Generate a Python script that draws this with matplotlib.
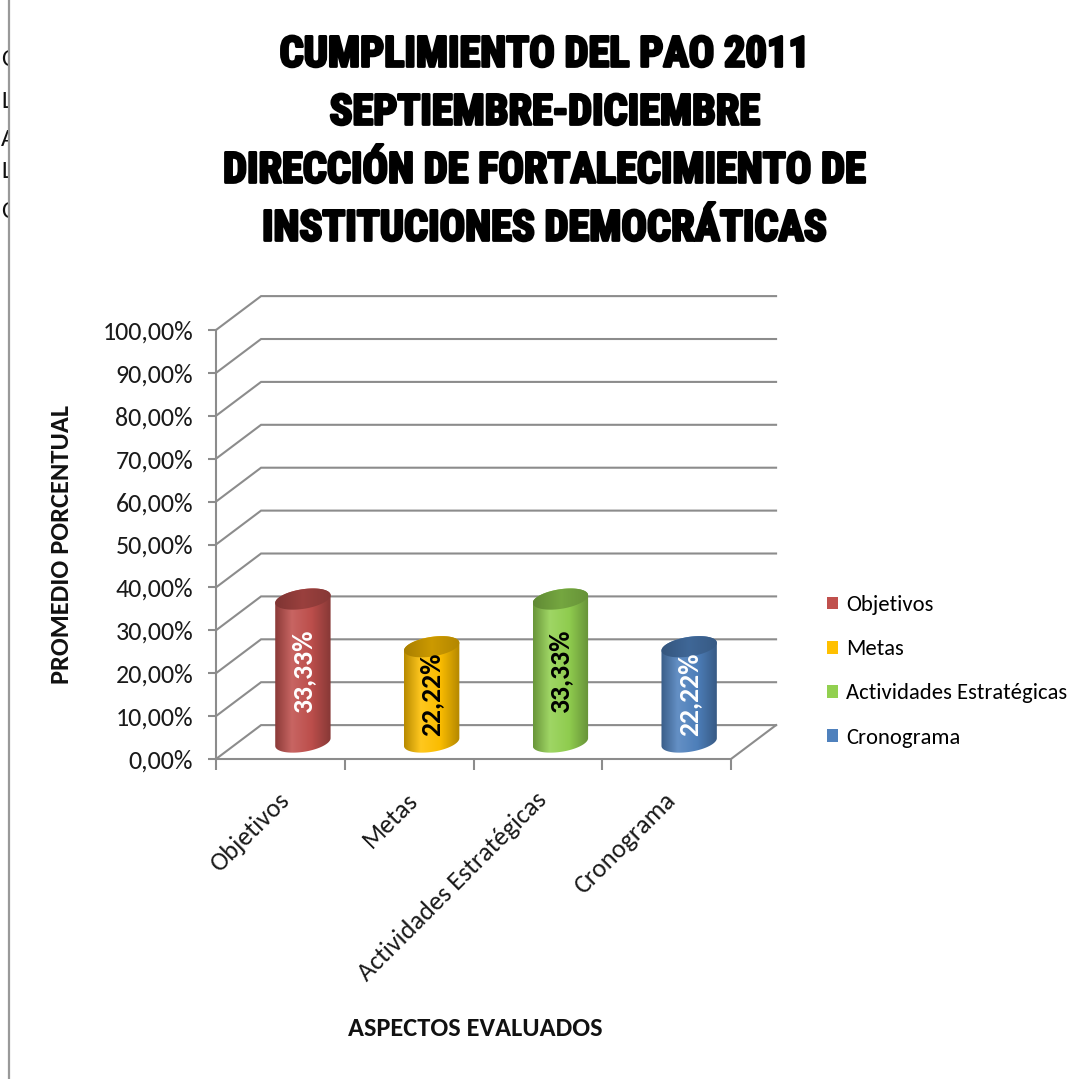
import numpy as np
import matplotlib
matplotlib.use("Agg")
import matplotlib.pyplot as plt
from matplotlib import font_manager
from matplotlib.patches import PathPatch, Rectangle, Patch
from matplotlib.path import Path
from matplotlib.lines import Line2D
from matplotlib.colors import LinearSegmentedColormap, to_rgb
from matplotlib.transforms import ScaledTranslation
import matplotlib.patheffects as pe

# ---------------- data ----------------
categories = ["Objetivos", "Metas", "Actividades Estratégicas", "Cronograma"]
values = [33.33, 22.22, 33.33, 22.22]
value_labels = ["33,33%", "22,22%", "33,33%", "22,22%"]
bar_colors = ["#C0504D", "#FFC000", "#92D050", "#4F81BD"]
label_colors = ["white", "black", "black", "white"]
y_ticks = [0, 10, 20, 30, 40, 50, 60, 70, 80, 90, 100]
y_tick_labels = ["0,00%", "10,00%", "20,00%", "30,00%", "40,00%", "50,00%",
                 "60,00%", "70,00%", "80,00%", "90,00%", "100,00%"]
title_lines = ["CUMPLIMIENTO DEL PAO 2011",
               "SEPTIEMBRE-DICIEMBRE",
               "DIRECCIÓN DE FORTALECIMIENTO DE",
               "INSTITUCIONES DEMOCRÁTICAS"]
y_title = "PROMEDIO PORCENTUAL"
x_title = "ASPECTOS EVALUADOS"

# ---------------- fonts ----------------
installed = {f.name for f in font_manager.fontManager.ttflist}


def pick(*names):
    for n in names:
        if n in installed:
            return n
    return "DejaVu Sans"


BODY = pick("Carlito", "Lato", "Open Sans", "DejaVu Sans")
TITLE = pick("Liberation Sans Narrow", "Roboto Condensed", "Arial Narrow", "DejaVu Sans")

# ---------------- figure ----------------
W, H = 1083, 1079
fig = plt.figure(figsize=(W / 100, H / 100), dpi=100, facecolor="white")

GRID = "#8c8c8c"
DX, DY = 0.35, 7.9          # depth offset of the back wall (data units)

# text of the page peeking out on the left, covered by the chart box
for ch, yy in zip(["C", "L", "A", "L", "C"], [60, 101, 140, 172, 212]):
    fig.text(1 / W, 1 - yy / H, ch, ha="left", va="center", fontsize=18,
             family=BODY, color="#111111", zorder=-3)
fig.add_artist(Rectangle((8 / W, 0), 1, 1, transform=fig.transFigure,
                         facecolor="white", edgecolor="none", zorder=-2))
fig.add_artist(Line2D([8.5 / W, 8.5 / W], [0, 1], transform=fig.transFigure,
                      color="#999999", lw=1.6, zorder=-1))

ax = fig.add_axes([216 / W, 1 - 759 / H, (731 - 216) / W, (759 - 330) / H])
ax.patch.set_visible(False)

# back wall gridlines with their diagonal return to the value axis
for v in y_ticks:
    ax.plot([0, DX, len(categories) + DX], [v, v + DY, v + DY], color=GRID,
            lw=1.5, clip_on=False, zorder=1, solid_joinstyle="miter")
ax.plot([len(categories), len(categories) + DX], [0, DY], color=GRID, lw=1.5,
        clip_on=False, zorder=1)

# ---------------- cylinders ----------------
R = 0.215      # half width (x data units)
RY = 2.3       # ellipse half height (y data units)
TILT = 0.9     # ellipse tilt (y data units)
th_low = np.linspace(np.pi, 2 * np.pi, 60)
th_up = np.linspace(0, np.pi, 60)
th_full = np.linspace(0, 2 * np.pi, 120)


def ell(cx, cy, th):
    return np.column_stack([cx + R * np.cos(th),
                            cy + RY * np.sin(th) + TILT * np.cos(th)])


def shade(c, f):
    r, g, b = to_rgb(c)
    if f < 1:
        return (r * f, g * f, b * f)
    return tuple(min(1, x + (1 - x) * (f - 1)) for x in (r, g, b))


grad = np.linspace(0, 1, 256)[None, :]
base = DY * 0.5
for i, (v, col) in enumerate(zip(values, bar_colors)):
    cx = i + 0.5 + DX * 0.5
    top = base + v
    body_pts = np.vstack([ell(cx, base, th_low), ell(cx, top, th_up)])
    body = PathPatch(Path(body_pts, closed=False), facecolor="none",
                     edgecolor="none", zorder=2)
    ax.add_patch(body)
    cmap = LinearSegmentedColormap.from_list(
        "b%d" % i, [(0, shade(col, 0.72)), (0.3, shade(col, 1.12)),
                    (0.65, shade(col, 0.98)), (1, shade(col, 0.7))])
    im = ax.imshow(grad, cmap=cmap, aspect="auto", zorder=2,
                   extent=[cx - R, cx + R, base - RY - 2, top + RY + 2])
    im.set_clip_path(body)

    cap = PathPatch(Path(ell(cx, top, th_full)), facecolor="none",
                    edgecolor="none", zorder=3)
    ax.add_patch(cap)
    cmap2 = LinearSegmentedColormap.from_list(
        "c%d" % i, [(0, shade(col, 0.66)), (0.5, shade(col, 0.8)),
                    (1, shade(col, 0.7))])
    im2 = ax.imshow(grad, cmap=cmap2, aspect="auto", zorder=3,
                    extent=[cx - R, cx + R, top - RY - 2, top + RY + 2])
    im2.set_clip_path(cap)

    ax.text(cx, base + v / 2, value_labels[i], rotation=90, ha="center",
            va="center", fontsize=20, fontweight="bold", family=BODY,
            color=label_colors[i], zorder=5)

ax.set_xlim(0, len(categories))
ax.set_ylim(0, 100)

# ---------------- axes ----------------
for s in ("top", "right"):
    ax.spines[s].set_visible(False)
for s in ("left", "bottom"):
    ax.spines[s].set_color(GRID)
    ax.spines[s].set_linewidth(1.5)

ax.set_yticks(y_ticks)
ax.set_yticklabels(y_tick_labels, family=BODY)
ax.tick_params(axis="y", direction="out", length=6, width=1.5, color=GRID,
               labelsize=18.7, pad=10.5, labelcolor="#1a1a1a")

ax.set_xticks(range(len(categories) + 1))
ax.set_xticklabels([""] * (len(categories) + 1))
ax.tick_params(axis="x", which="major", direction="out", length=8, width=1.5,
               color=GRID)
ax.set_xticks([i + 0.5 for i in range(len(categories))], minor=True)
ax.set_xticklabels(categories, minor=True, rotation=45, ha="right",
                   rotation_mode="anchor", family=BODY, fontsize=18.8,
                   color="#1a1a1a")
ax.tick_params(axis="x", which="minor", length=0, pad=21)
for lbl in ax.get_xticklabels(minor=True):
    lbl.set_transform(lbl.get_transform() +
                      ScaledTranslation(-3 / 100, 0, fig.dpi_scale_trans))

# ---------------- titles & legend ----------------
for line, yy in zip(title_lines, [55, 113, 171, 229]):
    fig.text(545 / W, 1 - yy / H, line, ha="center", va="center",
             fontsize=30.5, fontweight="bold", family=TITLE, color="black",
             path_effects=[pe.withStroke(linewidth=2, foreground="black")])

fig.text(62 / W, 1 - 545 / H, y_title, rotation=90, ha="center", va="center",
         fontsize=19, fontweight="bold", family=BODY, color="#111111")
fig.text(475 / W, 1 - 1028 / H, x_title, ha="center", va="center",
         fontsize=19, fontweight="bold", family=BODY, color="#111111")

handles = [Patch(facecolor=c, edgecolor="none") for c in bar_colors]
fig.legend(handles, categories, loc="upper left",
           bbox_to_anchor=(827 / W, 1 - 595 / H), frameon=False,
           prop={"family": BODY, "size": 16.3}, handlelength=0.5,
           handleheight=0.5, handletextpad=0.35, labelspacing=1.07,
           borderpad=0, borderaxespad=0)

fig.savefig("out.png", dpi=100, facecolor="white")
